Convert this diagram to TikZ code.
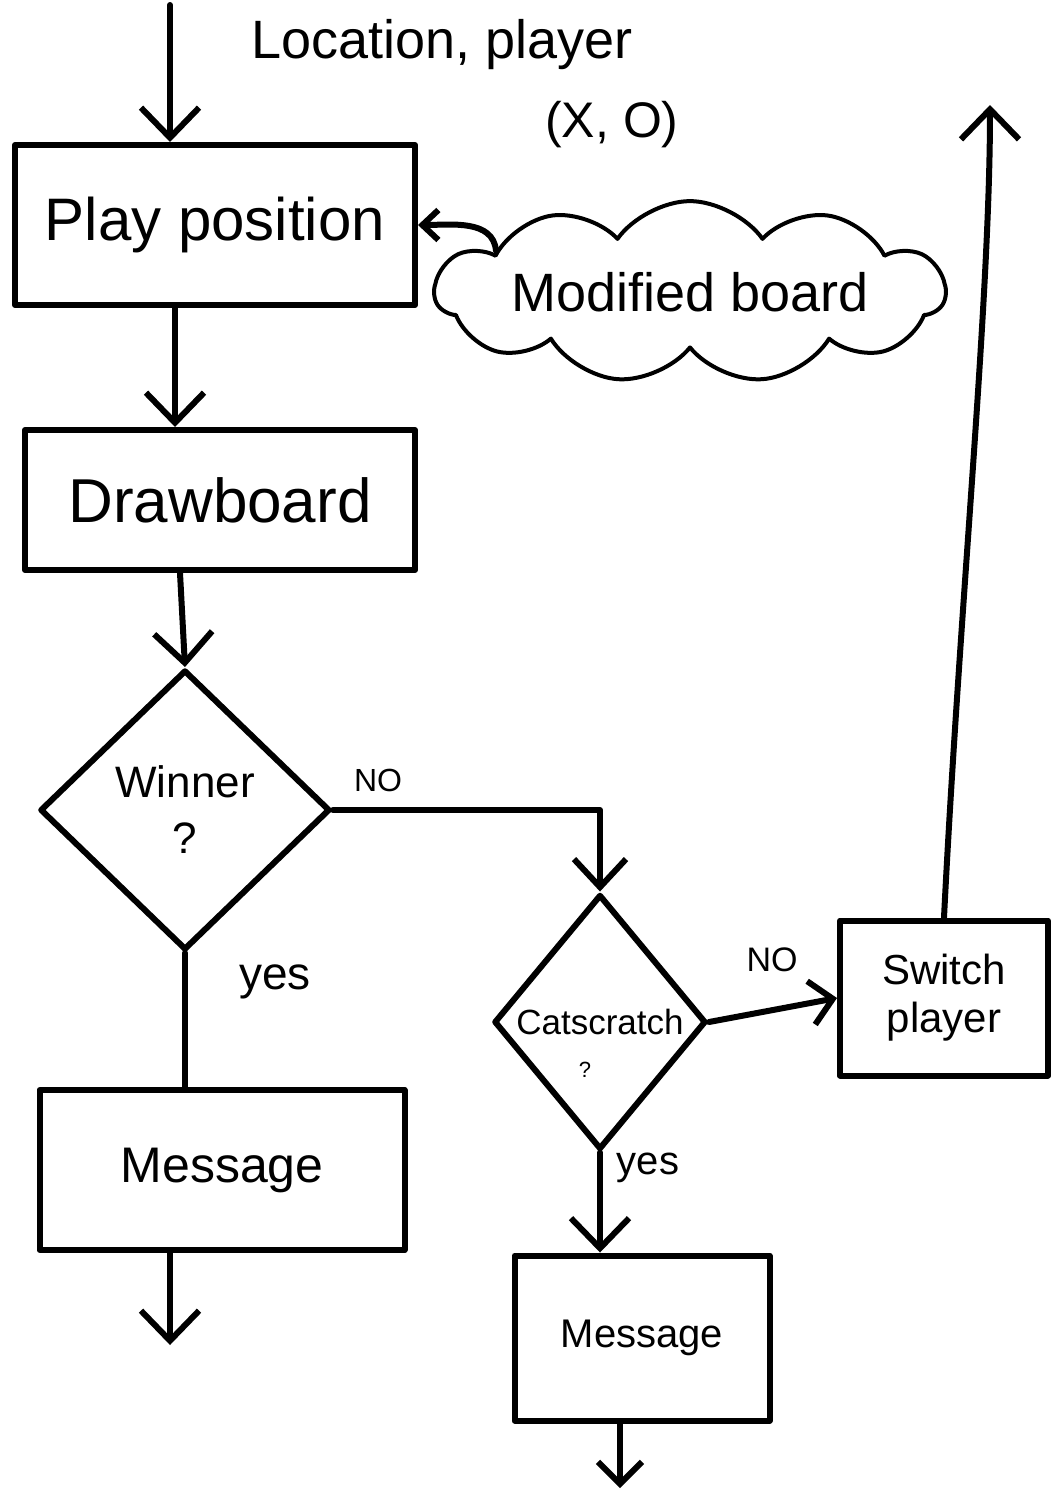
\documentclass[tikz,border=0pt]{standalone}
\usepackage{fontspec}
\setmainfont{Liberation Sans}
\usetikzlibrary{arrows.meta,shapes.geometric,shapes.symbols}
\newcommand{\fs}[1]{\fontsize{#1}{#1}\selectfont}
\newcommand{\fsl}[2]{\fontsize{#1}{#2}\selectfont}
\begin{document}
\begin{tikzpicture}[x=1pt,y=-1pt,
  ink/.style={line width=6pt,line cap=round,line join=round},
  arr/.style={ink,-{Straight Barb[length=30pt,width=58pt]}},
  smallarr/.style={ink,-{Straight Barb[length=16pt,width=30pt]}},
  box/.style={ink,draw,rectangle,inner sep=0pt},
  dia/.style={ink,draw,diamond,inner sep=0pt,aspect=1},
  lbl/.style={inner sep=0pt}]
\useasboundingbox (0,0) rectangle (1057,1492);
\fill[white] (0,0) rectangle (1057,1492);
% boxes
\node[box,minimum width=400pt,minimum height=160pt] (pp) at (215,225) {\fs{60}Play position};
\node[ink,draw,cloud,cloud puffs=11,cloud puff arc=110,aspect=4.5,minimum width=510pt,minimum height=112pt,inner sep=0pt,line width=4pt] (mb) at (690,292) {\fs{54}Modified board};
\node[box,minimum width=390pt,minimum height=140pt] (db) at (220,500) {\fs{62}Drawboard};
\node[dia,minimum width=290pt,minimum height=280pt,align=center,font={\fsl{44}{56}}] (win) at (185,810) {Winner\\?};
\node[dia,minimum width=212pt,minimum height=255pt] (cat) at (600,1022) {\fs{35}Catscratch};
\node[lbl] (catq) at (585,1070) {\fs{22}?};
\node[box,minimum width=365pt,minimum height=160pt] (m1) at (222,1170) {\fs{50}Message};
\node[box,minimum width=208pt,minimum height=155pt,align=center,font={\fsl{42}{48}}] (sw) at (944,998) {Switch\\player};
\node[box,minimum width=255pt,minimum height=165pt] (m2) at (642,1338) {\fs{40}Message};
% labels
\node[lbl] (l1) at (442,45) {\fs{54}Location, player};
\node[lbl] (l2) at (612,125) {\fs{50}(X, O)};
\node[lbl] (no1) at (378,780) {\fs{32}NO};
\node[lbl] (yes1) at (275,982) {\fs{46}yes};
\node[lbl] (no2) at (772,960) {\fs{34}NO};
\node[lbl] (yes2) at (648,1168) {\fs{40}yes};
% free ends
\coordinate (top) at (170,5);
\coordinate (e1) at (170,1345);
\coordinate (e2) at (620,1488);
\coordinate (up) at (990,105);
% connectors
\draw[arr] (top) -- (top |- pp.north);
\draw[smallarr] (mb.168) to[out=95,in=0] (pp.east);
\draw[arr] ([xshift=-40pt]pp.south) -- ([xshift=-45pt]db.north);
\draw[arr] ([xshift=-40pt]db.south) -- (win.north);
\draw[ink,-{Straight Barb[length=28pt,width=52pt]}] (win.east) -- (win.east -| cat.north) -- (cat.north);
\draw[ink] (win.south) -- (win.south |- m1.north);
\draw[arr] (e1 |- m1.south) -- (e1);
\draw[arr] (cat.south) -- (cat.south |- m2.north);
\draw[ink,-{Straight Barb[length=22pt,width=44pt]}] (e2 |- m2.south) -- (e2);
\draw[ink,-{Straight Barb[length=22pt,width=44pt]}] (cat.east) -- (sw.west);
\draw[arr] (sw.north) .. controls (960,600) and (990,300) .. (up);
\end{tikzpicture}
\end{document}
